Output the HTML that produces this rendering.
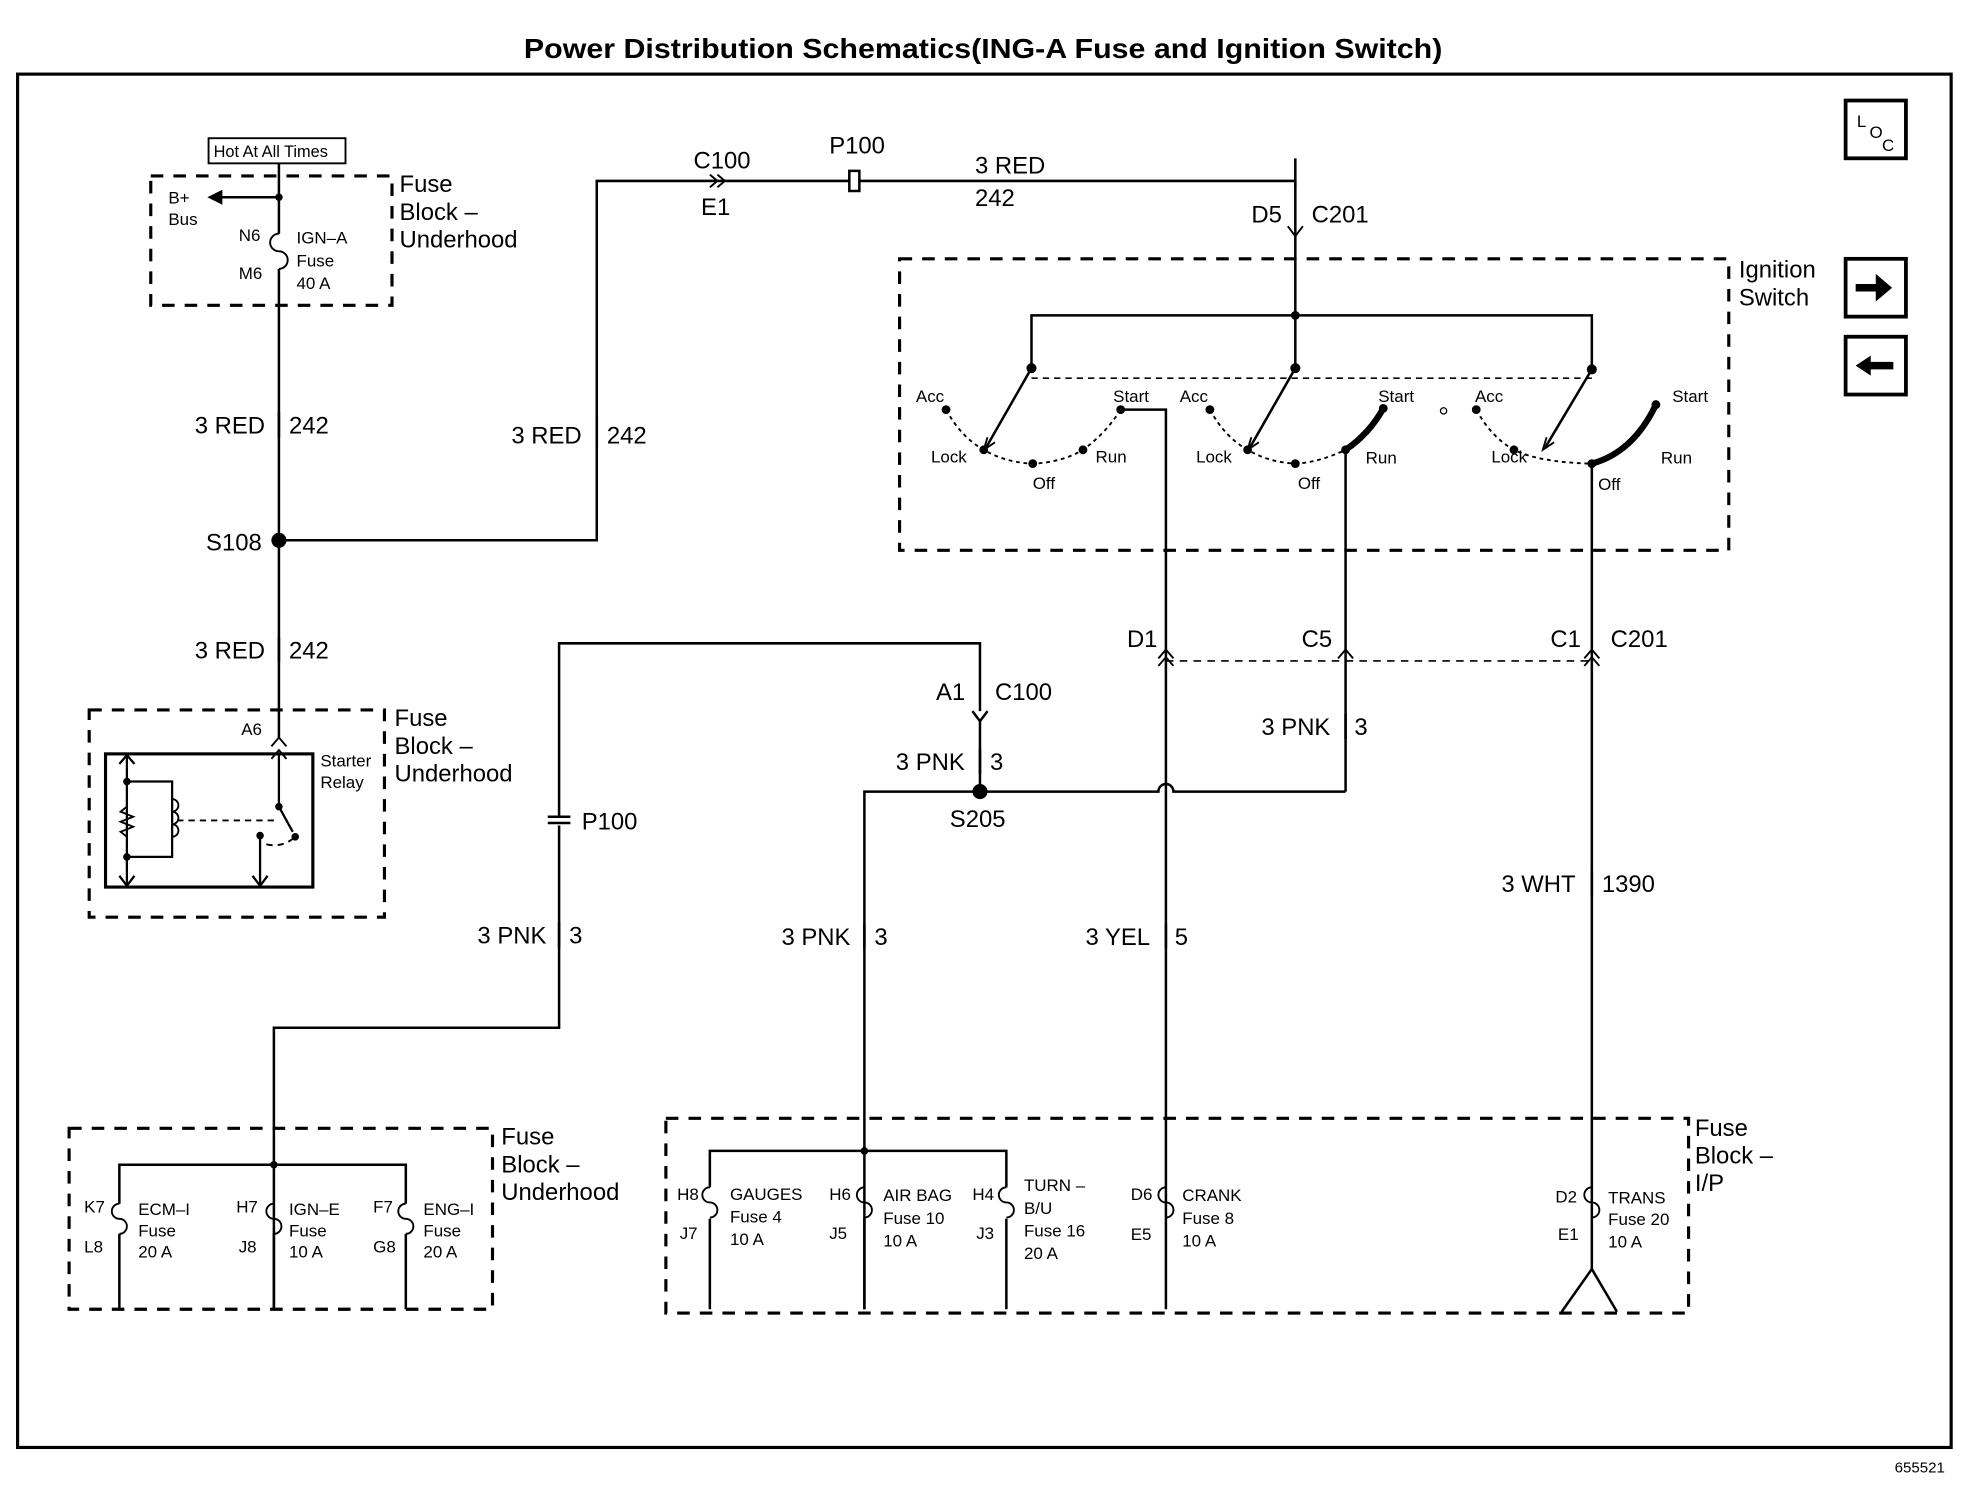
<!DOCTYPE html>
<html><head><meta charset="utf-8"><style>
html,body{margin:0;padding:0;background:#fff}
svg{display:block}
text{font-family:"Liberation Sans",sans-serif;fill:#000}
.b{font-size:19px}
.s{font-size:13.5px}
.m{font-size:17px}
</style></head><body>
<svg width="1970" height="1504" viewBox="0 0 1568 1197" preserveAspectRatio="none" xmlns="http://www.w3.org/2000/svg">
<g fill="none" stroke="#000" stroke-width="2">
<rect x="14" y="59" width="1539" height="1093" stroke-width="2.5"/>
<rect x="1469" y="80" width="48" height="46" stroke-width="3"/>
<rect x="1469" y="206" width="48" height="46" stroke-width="3"/>
<rect x="1469" y="268" width="48" height="46" stroke-width="3"/>
<g stroke-dasharray="10,8" stroke-width="2.5">
<rect x="120" y="140" width="192" height="103"/>
<rect x="716" y="206" width="660" height="232"/>
<rect x="71" y="565" width="235" height="165"/>
<rect x="55" y="898" width="337" height="144"/>
<rect x="530" y="890" width="814" height="155"/>
</g>
<rect x="166" y="110" width="109" height="20" stroke-width="1.5"/>
<path d="M222 130V186M222 214V588M222 157H172"/>
<path d="M222 186a6 6 0 0 0 0 14a6 6 0 0 1 0 14" stroke-width="1.5"/>
<path d="M222 430H475V144H676M684 144H1031V251"/>
<path d="M565 139l6 5l-6 5M571 139l6 5l-6 5" stroke-width="1.5"/>
<rect x="676" y="136" width="8" height="16" stroke-width="2"/>
<path d="M1025 180l6 8l6-8" stroke-width="1.5"/>
<path d="M821 293V251H1267V294M1031 251V293"/>
<path d="M821 301H1267" stroke-dasharray="5,4" stroke-width="1.3"/>
<path d="M821 293L785 356M1031 293L995 356M1267 294L1230 356"/>
<path d="M786 348l-3 10l9-6M996 348l-3 10l9-6M1231 348l-3 10l9-6" stroke-width="1.5"/>
<g stroke-dasharray="3,3" stroke-width="1.5">
<path d="M753 326Q765 348 783 358Q800 368 822 369Q845 368 862 358Q880 345 892 326"/>
<path d="M963 326Q975 348 993 358Q1010 368 1031 369Q1050 368 1071 358"/>
<path d="M1175 326Q1187 348 1205 358Q1225 368 1267 369"/>
</g>
<path d="M1071 358Q1090 345 1101 325" stroke-width="5"/>
<path d="M1267 369Q1300 360 1318 322" stroke-width="5"/>
<path d="M892 326H928V1042M1071 358V630M1267 369V1010"/>
<path d="M922 524l6-7l6 7M922 530l6-7l6 7M1065 524l6-7l6 7M1261 524l6-7l6 7M1261 530l6-7l6 7" stroke-width="1.5"/>
<path d="M928 526H1267" stroke-dasharray="6,5" stroke-width="1.3"/>
<path d="M1071 630H934a6 6 0 0 0-12 0H780"/>
<path d="M780 630H688V1042"/>
<path d="M780 630V574M774 566l6 8l6-8M780 566V512H445V650M445 657V818H218V1042"/>
<path d="M436 650h18M436 655h18" stroke-width="2"/>
<rect x="84" y="600" width="165" height="106" stroke-width="2.5"/>
<path d="M216 594l6-7l6 7M216 604l6-7l6 7" stroke-width="1.5"/>
<path d="M222 600V642L233 662M207 665V705M201 697l6 8l6-8M101 600V705M95 608l6-7l6 7M95 697l6 8l6-8M101 622H137V682H101" stroke-width="1.8"/>
<path d="M101 642l-5 4l10 4l-10 4l10 4l-10 4l5 4" stroke-width="1.5"/>
<path d="M137 636a4 4 0 0 1 0 10a4 4 0 0 1 0 10a4 4 0 0 1 0 10" stroke-width="1.5"/>
<path d="M141 653H218M212 672Q225 675 235 666" stroke-dasharray="5,4" stroke-width="1.5"/>
<path d="M95 958V927H323V958M95 982V1042M323 982V1042M218 982V1042" />
<path d="M565 945V916H801V945M565 970V1042M688 970V1042M801 970V1042M1267 1010L1243 1044M1267 1010L1287 1044"/>
<g stroke-width="1.5">
<path d="M95 958a6 6 0 0 0 0 12a6 6 0 0 1 0 12M218 958a6 6 0 0 0 0 12a6 6 0 0 1 0 12M323 958a6 6 0 0 0 0 12a6 6 0 0 1 0 12"/>
<path d="M565 945a6 6 0 0 0 0 12a6 6 0 0 1 0 12M688 945a6 6 0 0 0 0 12a6 6 0 0 1 0 12M801 945a6 6 0 0 0 0 12a6 6 0 0 1 0 12M928 945a6 6 0 0 0 0 12a6 6 0 0 1 0 12M1267 945a6 6 0 0 0 0 12a6 6 0 0 1 0 12"/>
</g>
<path d="M222 328v20M222 507v20M475 336v20M1031 126v24M1071 568v20M780 596v20M688 735v20M928 735v20M1267 693v20M445 734v20"/>
</g>
<g fill="#000">
<path d="M165 157l12-6v12z"/>
<circle cx="222" cy="430" r="6"/>
<circle cx="780" cy="630" r="6"/>
<circle cx="222" cy="157" r="3"/>
<circle cx="1031" cy="251" r="3.5"/>
<circle cx="821" cy="293" r="4"/><circle cx="1031" cy="293" r="4"/><circle cx="1267" cy="294" r="4"/>
<circle cx="753" cy="326" r="3.5"/><circle cx="783" cy="358" r="3.5"/><circle cx="822" cy="369" r="3.5"/><circle cx="862" cy="358" r="3.5"/><circle cx="892" cy="326" r="3.5"/>
<circle cx="963" cy="326" r="3.5"/><circle cx="993" cy="358" r="3.5"/><circle cx="1031" cy="369" r="3.5"/><circle cx="1071" cy="358" r="3.5"/><circle cx="1101" cy="325" r="3.5"/>
<circle cx="1175" cy="326" r="3.5"/><circle cx="1205" cy="358" r="3.5"/><circle cx="1267" cy="369" r="3.5"/><circle cx="1318" cy="322" r="3.5"/>
<circle cx="218" cy="927" r="3"/><circle cx="688" cy="916" r="3"/>
<circle cx="101" cy="622" r="3"/><circle cx="101" cy="682" r="3"/><circle cx="222" cy="642" r="3"/><circle cx="235" cy="666" r="3"/><circle cx="207" cy="665" r="3"/>
<path d="M1477 226h16v-8l13 11l-13 11v-8h-16z"/>
<path d="M1477 291l12-8v5h18v6h-18v5z"/>
</g>
<circle cx="1149" cy="327" r="2.5" fill="none" stroke="#000"/>
<text x="417" y="46" textLength="731" lengthAdjust="spacingAndGlyphs" style="font-size:22px;font-weight:bold">Power Distribution Schematics(ING-A Fuse and Ignition Switch)</text>
<text x="1478" y="101" class="s">L</text><text x="1488" y="110" class="s">O</text><text x="1498" y="120" class="s">C</text>
<text x="170" y="125" class="s" style="font-size:13px">Hot At All Times</text>
<text x="134" y="162" class="s">B+</text><text x="134" y="179" class="s">Bus</text>
<text x="190" y="192" class="s">N6</text><text x="190" y="222" class="s">M6</text>
<text x="236" y="194" class="s">IGN–A</text><text x="236" y="212" class="s">Fuse</text><text x="236" y="230" class="s">40 A</text>
<text x="318" y="153" class="b">Fuse</text><text x="318" y="175" class="b">Block –</text><text x="318" y="197" class="b">Underhood</text>
<text x="155" y="345" class="b">3 RED</text><text x="230" y="345" class="b">242</text>
<text x="164" y="438" class="b">S108</text>
<text x="155" y="524" class="b">3 RED</text><text x="230" y="524" class="b">242</text>
<text x="407" y="353" class="b">3 RED</text><text x="483" y="353" class="b">242</text>
<text x="552" y="134" class="b">C100</text><text x="558" y="171" class="b">E1</text>
<text x="660" y="122" class="b">P100</text>
<text x="776" y="138" class="b">3 RED</text><text x="776" y="164" class="b">242</text>
<text x="996" y="177" class="b">D5</text><text x="1044" y="177" class="b">C201</text>
<text x="1384" y="221" class="b">Ignition</text><text x="1384" y="243" class="b">Switch</text>
<text x="729" y="320" class="s">Acc</text><text x="886" y="320" class="s">Start</text><text x="741" y="368" class="s">Lock</text><text x="872" y="368" class="s">Run</text><text x="822" y="389" class="s">Off</text>
<text x="939" y="320" class="s">Acc</text><text x="1097" y="320" class="s">Start</text><text x="952" y="368" class="s">Lock</text><text x="1087" y="369" class="s">Run</text><text x="1033" y="389" class="s">Off</text>
<text x="1174" y="320" class="s">Acc</text><text x="1331" y="320" class="s">Start</text><text x="1187" y="368" class="s">Lock</text><text x="1322" y="369" class="s">Run</text><text x="1272" y="390" class="s">Off</text>
<text x="897" y="515" class="b">D1</text><text x="1036" y="515" class="b">C5</text><text x="1234" y="515" class="b">C1</text><text x="1282" y="515" class="b">C201</text>
<text x="745" y="557" class="b">A1</text><text x="792" y="557" class="b">C100</text>
<text x="1004" y="585" class="b">3 PNK</text><text x="1078" y="585" class="b">3</text>
<text x="713" y="613" class="b">3 PNK</text><text x="788" y="613" class="b">3</text>
<text x="756" y="658" class="b">S205</text>
<text x="463" y="660" class="b">P100</text>
<text x="380" y="751" class="b">3 PNK</text><text x="453" y="751" class="b">3</text>
<text x="622" y="752" class="b">3 PNK</text><text x="696" y="752" class="b">3</text>
<text x="864" y="752" class="b">3 YEL</text><text x="935" y="752" class="b">5</text>
<text x="1195" y="710" class="b">3 WHT</text><text x="1275" y="710" class="b">1390</text>
<text x="192" y="585" class="s">A6</text>
<text x="255" y="610" class="s">Starter</text><text x="255" y="627" class="s">Relay</text>
<text x="314" y="578" class="b">Fuse</text><text x="314" y="600" class="b">Block –</text><text x="314" y="622" class="b">Underhood</text>
<text x="399" y="911" class="b">Fuse</text><text x="399" y="933" class="b">Block –</text><text x="399" y="955" class="b">Underhood</text>
<text x="67" y="965" class="s">K7</text><text x="67" y="997" class="s">L8</text><text x="110" y="967" class="s">ECM–I</text><text x="110" y="984" class="s">Fuse</text><text x="110" y="1001" class="s">20 A</text>
<text x="188" y="965" class="s">H7</text><text x="190" y="997" class="s">J8</text><text x="230" y="967" class="s">IGN–E</text><text x="230" y="984" class="s">Fuse</text><text x="230" y="1001" class="s">10 A</text>
<text x="297" y="965" class="s">F7</text><text x="297" y="997" class="s">G8</text><text x="337" y="967" class="s">ENG–I</text><text x="337" y="984" class="s">Fuse</text><text x="337" y="1001" class="s">20 A</text>
<text x="539" y="955" class="s">H8</text><text x="541" y="986" class="s">J7</text><text x="581" y="955" class="s">GAUGES</text><text x="581" y="973" class="s">Fuse 4</text><text x="581" y="991" class="s">10 A</text>
<text x="660" y="955" class="s">H6</text><text x="660" y="986" class="s">J5</text><text x="703" y="956" class="s">AIR BAG</text><text x="703" y="974" class="s">Fuse 10</text><text x="703" y="992" class="s">10 A</text>
<text x="774" y="955" class="s">H4</text><text x="777" y="986" class="s">J3</text><text x="815" y="948" class="s">TURN –</text><text x="815" y="966" class="s">B/U</text><text x="815" y="984" class="s">Fuse 16</text><text x="815" y="1002" class="s">20 A</text>
<text x="900" y="955" class="s">D6</text><text x="900" y="987" class="s">E5</text><text x="941" y="956" class="s">CRANK</text><text x="941" y="974" class="s">Fuse 8</text><text x="941" y="992" class="s">10 A</text>
<text x="1238" y="957" class="s">D2</text><text x="1240" y="987" class="s">E1</text><text x="1280" y="958" class="s">TRANS</text><text x="1280" y="975" class="s">Fuse 20</text><text x="1280" y="993" class="s">10 A</text>
<text x="1349" y="904" class="b">Fuse</text><text x="1349" y="926" class="b">Block –</text><text x="1349" y="948" class="b">I/P</text>
<text x="1508" y="1172" class="s" style="font-size:12px">655521</text>
</svg>
</body></html>
